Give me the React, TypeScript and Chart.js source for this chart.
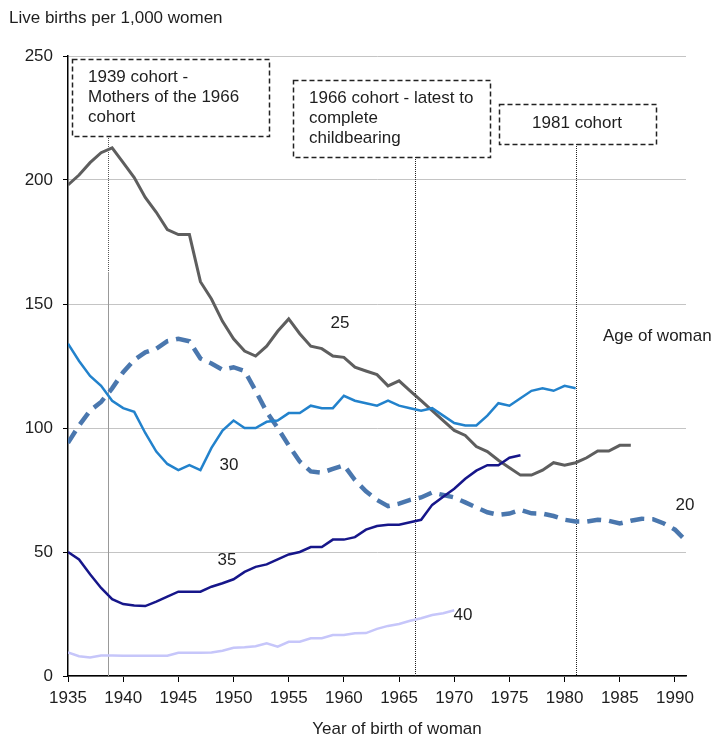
import React, { useEffect, useRef } from "react";
import { Chart, registerables } from "chart.js";

Chart.register(...registerables);

const FONT = "'Liberation Sans', Arial, sans-serif";
const TEXT = "#1e1e1e";

const years = [
  1935, 1936, 1937, 1938, 1939, 1940, 1941, 1942, 1943, 1944,
  1945, 1946, 1947, 1948, 1949, 1950, 1951, 1952, 1953, 1954,
  1955, 1956, 1957, 1958, 1959, 1960, 1961, 1962, 1963, 1964,
  1965, 1966, 1967, 1968, 1969, 1970, 1971, 1972, 1973, 1974,
  1975, 1976, 1977, 1978, 1979, 1980, 1981, 1982, 1983, 1984,
  1985, 1986, 1987, 1988, 1989, 1990, 1991,
];

const age20 = [
  94, 101, 107, 110.5, 116, 122.5, 127.5, 130.5, 132, 135,
  136, 135, 128, 126, 123.5, 124.5, 123, 115, 106.5, 100,
  93, 86.5, 82.5, 82, 83.5, 85, 79, 74.5, 71, 68.5,
  69.5, 71, 72, 74, 73, 72, 70, 68, 66, 65,
  65.5, 67, 65.6, 65.5, 64.5, 63, 62.3, 62.3, 63, 62.6,
  61.5, 62.6, 63.4, 63.2, 61.5, 59, 54.5,
];

const age25 = [
  198, 202, 207, 211, 213, 207, 201, 193, 187, 180,
  178, 178, 159, 152, 143, 136, 131, 129, 133, 139,
  144, 138, 133, 132, 129, 128.5, 124.5, 123, 121.5, 117,
  119, 115, 111, 107, 103, 99, 97, 92.5, 90.5, 87,
  84, 81, 81, 83, 86, 85, 86, 88, 90.7, 90.7,
  93, 93,
];

const age30 = [
  134, 127, 121, 117, 111, 108, 106.5, 98, 90.5, 85.5,
  83, 85, 83, 92, 99, 103, 100, 100, 102.5, 103,
  106, 106, 109, 108, 108, 113, 111, 110, 109, 111,
  109, 108, 107, 108, 105, 102, 101, 101, 105, 110,
  109, 112, 115, 116, 115, 117, 116,
];

const age35 = [
  50, 47, 41, 35.5, 31, 29, 28.4, 28.2, 30, 32,
  34, 34, 34, 36, 37.4, 39, 42, 44, 45, 47,
  49, 50, 52, 52, 55, 55, 56, 59, 60.5, 61,
  61, 62, 63, 69, 72.3, 75.5, 79.5, 82.8, 85, 85,
  88, 89,
];

const age40 = [
  9.5, 8, 7.5, 8.3, 8.3, 8.2, 8.2, 8.2, 8.2, 8.2,
  9.4, 9.4, 9.4, 9.5, 10.2, 11.4, 11.6, 12, 13.2, 11.8,
  13.8, 13.8, 15.2, 15.2, 16.5, 16.5, 17.2, 17.3, 19, 20.2,
  21, 22.3, 23.3, 24.6, 25.3, 26.5,
];

const xTicks = [1935, 1940, 1945, 1950, 1955, 1960, 1965, 1970, 1975, 1980, 1985, 1990];
const yTicks = [0, 50, 100, 150, 200, 250];

const cohortLineYears = [1938.6, 1966.4, 1981];

const seriesLabels = ["20", "25", "30", "35", "40"];

const toPoints = (vals: number[]) => vals.map((v, i) => ({ x: years[i], y: v }));

const annotationPlugin = {
  id: "annotations",
  beforeDatasetsDraw(chart: any) {
    const { ctx, scales } = chart;
    const x = scales.x;
    const y = scales.y;
    const bottom = y.getPixelForValue(0);
    ctx.save();
    const x1 = Math.round(x.getPixelForValue(cohortLineYears[0])) + 0.5;
    ctx.lineWidth = 1;
    ctx.setLineDash([1, 1]);
    ctx.strokeStyle = "#555";
    ctx.beginPath();
    ctx.moveTo(x1, 136);
    ctx.lineTo(x1, 272);
    ctx.stroke();
    ctx.setLineDash([]);
    ctx.strokeStyle = "#999";
    ctx.beginPath();
    ctx.moveTo(x1, 272);
    ctx.lineTo(x1, bottom);
    ctx.stroke();
    ctx.setLineDash([1, 1]);
    ctx.strokeStyle = "#222";
    const x2 = Math.round(x.getPixelForValue(cohortLineYears[1])) + 0.5;
    ctx.beginPath();
    ctx.moveTo(x2, 157);
    ctx.lineTo(x2, bottom);
    ctx.stroke();
    const x3 = Math.round(x.getPixelForValue(cohortLineYears[2])) + 0.5;
    ctx.beginPath();
    ctx.moveTo(x3, 144);
    ctx.lineTo(x3, bottom);
    ctx.stroke();
    ctx.restore();
  },
  afterDraw(chart: any) {
    const { ctx } = chart;
    ctx.save();
    ctx.fillStyle = "#ffffff";
    ctx.strokeStyle = "#222";
    ctx.lineWidth = 1.5;
    ctx.setLineDash([5, 3]);
    const boxes = [
      [72, 59, 197, 77],
      [293, 80, 197, 77],
      [499, 104, 157, 40],
    ];
    boxes.forEach(([bx, by, bw, bh]) => {
      ctx.fillRect(bx, by, bw, bh);
      ctx.strokeRect(bx + 0.5, by + 0.5, bw, bh);
    });
    ctx.setLineDash([]);
    ctx.fillStyle = TEXT;
    ctx.font = `17px ${FONT}`;
    ctx.textBaseline = "middle";
    ctx.textAlign = "left";
    const t = (s: string, px: number, py: number, align: CanvasTextAlign = "left") => {
      ctx.textAlign = align;
      ctx.fillText(s, px, py);
    };
    t("1939 cohort -", 88, 77);
    t("Mothers of the 1966", 88, 97);
    t("cohort", 88, 117);
    t("1966 cohort - latest to", 309, 98);
    t("complete", 309, 118);
    t("childbearing", 309, 138);
    t("1981 cohort", 577, 123, "center");
    t("Live births per 1,000 women", 9, 18);
    t("Year of birth of woman", 397, 729, "center");
    t(seriesLabels[1], 340, 323, "center");
    t(seriesLabels[2], 229, 465, "center");
    t(seriesLabels[3], 227, 560, "center");
    t(seriesLabels[4], 463, 615, "center");
    t(seriesLabels[0], 685, 505, "center");
    t("Age of woman", 603, 336);
    ctx.restore();
  },
};

export default function App() {
  const ref = useRef<HTMLCanvasElement | null>(null);
  useEffect(() => {
    if (!ref.current) return;
    const chart = new Chart(ref.current, {
      type: "line",
      data: {
        datasets: [
          {
            label: seriesLabels[0],
            data: toPoints(age20),
            borderColor: "#4a77ae",
            borderWidth: 4.5,
            borderDash: [14, 8],
            pointRadius: 0,
            tension: 0,
            order: 5,
          },
          {
            label: seriesLabels[1],
            data: toPoints(age25),
            borderColor: "#5e5e5e",
            borderWidth: 3,
            pointRadius: 0,
            tension: 0,
            order: 4,
          },
          {
            label: seriesLabels[2],
            data: toPoints(age30),
            borderColor: "#2282cc",
            borderWidth: 2.5,
            pointRadius: 0,
            tension: 0,
            order: 3,
          },
          {
            label: seriesLabels[3],
            data: toPoints(age35),
            borderColor: "#16168a",
            borderWidth: 2.5,
            pointRadius: 0,
            tension: 0,
            order: 2,
          },
          {
            label: seriesLabels[4],
            data: toPoints(age40),
            borderColor: "#c6c6fa",
            borderWidth: 2.5,
            pointRadius: 0,
            tension: 0,
            order: 1,
          },
        ],
      },
      options: {
        animation: false,
        responsive: false,
        devicePixelRatio: 1,
        layout: { padding: { top: 56, right: 32, left: 0, bottom: 0 } },
        plugins: { legend: { display: false }, tooltip: { enabled: false }, title: { display: false } },
        scales: {
          x: {
            type: "linear",
            min: 1935,
            max: 1991,
            afterBuildTicks: (s: any) => {
              s.ticks = xTicks.map((v) => ({ value: v }));
            },
            afterFit: (s: any) => {
              s.height = 62;
            },
            grid: { drawOnChartArea: false, drawTicks: true, tickLength: 6, tickColor: "#000", tickWidth: 1 },
            border: { color: "#000", width: 1.5 },
            ticks: {
              font: { family: FONT, size: 17 },
              color: TEXT,
              padding: 6,
              maxRotation: 0,
              autoSkip: false,
              callback: (v: any) => String(v),
            },
          },
          y: {
            type: "linear",
            min: 0,
            max: 250,
            afterBuildTicks: (s: any) => {
              s.ticks = yTicks.map((v) => ({ value: v }));
            },
            afterFit: (s: any) => {
              s.width = 68;
            },
            grid: { color: "#c4c4c4", lineWidth: 1, tickColor: "#000", tickLength: 5, tickWidth: 1 },
            border: { color: "#000", width: 1.5 },
            ticks: {
              font: { family: FONT, size: 17 },
              color: TEXT,
              padding: 10,
              callback: (v: any) => String(v),
            },
          },
        },
      },
      plugins: [annotationPlugin],
    });
    return () => chart.destroy();
  }, []);
  return (
    <div style={{ position: "absolute", left: 0, top: 0, width: 718, height: 738, background: "#fff" }}>
      <canvas ref={ref} width={718} height={738} style={{ width: 718, height: 738, display: "block" }} />
    </div>
  );
}
